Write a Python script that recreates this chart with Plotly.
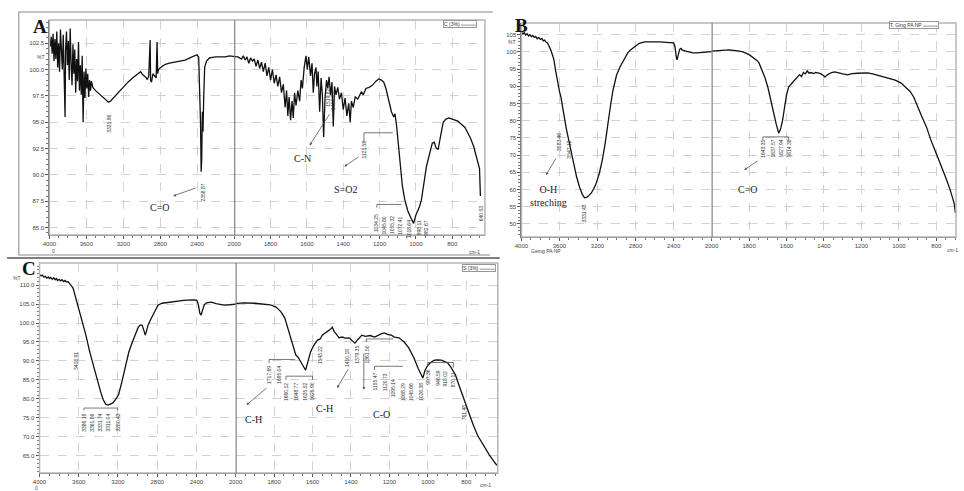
import plotly.graph_objects as go

W, H = 964, 491


def px(x):
    return x / W


def py(y):
    return 1 - y / H


# ---------------- data ----------------
A_name = "C (3%)"
B_name = "T. Ging PA NP"
C_name = "S (3%)"

A_wn = [4000, 3990, 3980, 3970, 3960, 3950, 3940, 3930, 3920, 3910,
        3900, 3890, 3880, 3870, 3860, 3850, 3840, 3830, 3825, 3815,
        3805, 3795, 3785, 3775, 3765, 3755, 3745, 3735, 3725, 3715,
        3705, 3695, 3685, 3675, 3665, 3655, 3645, 3635, 3625, 3615,
        3605, 3595, 3585, 3575, 3565, 3555, 3545, 3530, 3500, 3450,
        3400, 3360, 3340, 3300, 3250, 3200, 3150, 3100, 3050, 3013,
        2990, 2960, 2940, 2925, 2910, 2905, 2895, 2880, 2845, 2835,
        2828, 2820, 2780, 2745, 2700, 2650, 2600, 2532, 2480, 2430,
        2404, 2385, 2375, 2365, 2358, 2352, 2345, 2338, 2330, 2320,
        2300, 2268, 2200, 2100, 2050, 2000, 1980, 1960, 1950, 1940,
        1930, 1920, 1910, 1900, 1890, 1880, 1870, 1860, 1850, 1840,
        1830, 1820, 1810, 1800, 1790, 1780, 1770, 1760, 1750, 1740,
        1730, 1720, 1712, 1705, 1698, 1690, 1682, 1675, 1668, 1660,
        1650, 1640, 1632, 1625, 1615, 1605, 1598, 1590, 1580, 1572,
        1565, 1558, 1550, 1545, 1538, 1530, 1522, 1515, 1508, 1500,
        1492, 1485, 1478, 1470, 1462, 1455, 1448, 1440, 1430, 1421,
        1410, 1400, 1390, 1380, 1370, 1362, 1355, 1345, 1334, 1320,
        1300, 1290, 1275, 1258, 1240, 1220, 1204, 1190, 1177, 1165,
        1150, 1135, 1122, 1115, 1106, 1090, 1075, 1062, 1045, 1030,
        1013, 1000, 990, 980, 970, 955, 942, 925, 910, 899,
        890, 878, 865, 850, 835, 818, 800, 785, 769, 750,
        730, 715, 700, 682, 665, 650, 645]
A_T = [102.8, 102.2, 103.1, 101.5, 103.4, 100.8, 102.9, 101.0, 103.6, 100.2,
       102.5, 99.8, 103.8, 101.2, 100.0, 103.3, 99.4, 95.5, 101.8, 103.6,
       100.4, 102.7, 99.0, 103.9, 100.6, 98.5, 102.4, 99.6, 101.9, 97.8,
       101.0, 98.9, 102.6, 98.0, 100.4, 97.6, 101.3, 95.0, 99.8, 97.3,
       100.1, 98.2, 99.6, 97.4, 99.0, 98.0, 98.9, 98.3, 98.0, 97.6,
       97.2, 96.9, 97.0, 97.4, 97.9, 98.4, 98.8, 99.2, 99.6, 99.8,
       99.5, 99.3, 99.05, 99.4, 102.8, 99.0, 98.8, 99.6, 99.2, 102.6,
       99.6, 100.0, 100.3, 100.5, 100.6, 100.7, 100.8, 100.9, 101.1, 101.3,
       101.4, 101.2, 99.0, 95.0, 90.3, 91.5, 96.0, 94.1, 97.5, 100.2,
       100.8, 101.1, 101.2, 101.2, 101.3, 101.2, 101.2, 101.0, 101.3, 100.9,
       101.2, 100.6, 101.1, 100.8, 101.0, 100.3, 100.9, 100.1, 100.7, 99.8,
       100.6, 99.4, 100.2, 99.0, 100.0, 98.7, 99.5, 98.4, 99.3, 97.8,
       98.6, 96.4, 98.0, 95.6, 97.4, 95.2, 97.0, 95.4, 97.8, 96.6,
       98.0, 97.0, 99.0, 98.2, 100.2, 101.3, 100.0, 101.2, 99.4, 100.6,
       97.8, 99.6, 100.2, 98.4, 99.8, 96.0, 99.2, 97.6, 93.6, 97.4,
       99.0, 98.2, 99.3, 97.6, 98.8, 94.6, 98.4, 97.6, 98.3, 97.2,
       97.8, 96.2, 97.3, 95.6, 96.8, 95.0, 97.0, 96.4, 97.4, 97.2,
       97.9, 97.6, 98.2, 98.3, 98.5, 98.9, 99.1, 99.0, 98.8, 98.2,
       97.2, 96.0, 95.5, 95.8, 94.6, 91.5, 89.0, 87.7, 86.6, 86.0,
       85.4, 86.2, 86.6, 87.0, 87.6, 89.6, 90.8, 92.0, 93.0, 93.1,
       92.6, 92.4, 93.8, 95.0, 95.3, 95.4, 95.3, 95.2, 95.1, 94.8,
       94.5, 94.0, 93.5, 92.7, 91.6, 90.6, 88.0]

B_wn = [4000, 3985, 3970, 3955, 3940, 3925, 3910, 3895, 3880, 3865,
        3850, 3835, 3820, 3800, 3785, 3770, 3755, 3740, 3725, 3710,
        3690, 3670, 3658, 3640, 3620, 3600, 3585, 3560, 3530, 3503,
        3470, 3440, 3420, 3390, 3360, 3337, 3310, 3290, 3264, 3240,
        3212, 3180, 3150, 3119, 3090, 3060, 3036, 3000, 2964, 2920,
        2880, 2850, 2800, 2760, 2705, 2650, 2600, 2550, 2497, 2440,
        2400, 2385, 2370, 2363, 2352, 2335, 2320, 2311, 2280, 2240,
        2200, 2155, 2100, 2050, 2000, 1960, 1905, 1870, 1832, 1800,
        1775, 1760, 1747, 1730, 1715, 1700, 1685, 1668, 1655, 1642,
        1632, 1621, 1610, 1600, 1589, 1575, 1560, 1550, 1542, 1530,
        1520, 1510, 1500, 1489, 1480, 1470, 1455, 1445, 1432, 1415,
        1400, 1395, 1380, 1360, 1342, 1320, 1300, 1274, 1250, 1220,
        1190, 1168, 1140, 1110, 1079, 1050, 1020, 990, 960, 940,
        921, 900, 880, 853, 830, 800, 779, 750, 726, 705,
        698]
B_T = [105.8, 105.2, 105.6, 104.9, 105.3, 104.6, 105.0, 104.4, 104.8, 104.2,
       104.5, 103.8, 104.2, 103.6, 103.9, 103.2, 103.4, 102.8, 102.6, 101.8,
       100.5, 98.8, 97.7, 94.5, 91.2, 88.5, 86.9, 82.5, 78.0, 74.4,
       69.8, 66.0, 63.7, 60.8, 58.6, 57.6, 57.8, 58.3, 59.0, 60.2,
       61.9, 64.8, 68.5, 73.5, 79.5, 85.0, 89.0, 93.2, 95.6, 98.0,
       99.8, 100.6, 101.8, 102.5, 102.9, 103.0, 102.9, 102.9, 102.9, 102.7,
       102.6, 101.5, 98.2, 97.7, 99.0, 100.8, 101.0, 100.6, 100.3, 100.0,
       99.7, 99.7, 99.9, 100.0, 100.1, 100.4, 100.6, 100.4, 100.0, 99.2,
       98.3, 97.6, 96.8, 94.5, 92.5, 89.8, 86.0, 82.3, 79.0, 76.4,
       77.5, 80.2, 84.0, 87.5, 89.8, 90.8, 91.6, 92.2, 92.7, 93.4,
       92.8, 94.0, 93.6, 94.5, 93.8, 94.0, 93.7, 94.0, 93.9, 93.6,
       93.0, 92.7, 93.4, 94.0, 94.2, 93.8, 93.6, 93.3, 93.7, 93.8,
       93.9, 93.9, 93.6, 93.2, 92.7, 92.2, 91.8, 91.0, 89.6, 88.5,
       86.9, 84.0, 81.5, 78.2, 74.5, 70.4, 67.7, 63.5, 59.9, 56.0,
       53.2]

C_wn = [4000, 3985, 3970, 3955, 3940, 3925, 3910, 3899, 3885, 3870,
        3855, 3840, 3829, 3815, 3800, 3785, 3770, 3755, 3740, 3725,
        3708, 3690, 3675, 3658, 3640, 3625, 3607, 3590, 3560, 3527,
        3490, 3446, 3410, 3376, 3350, 3325, 3300, 3280, 3255, 3225,
        3194, 3160, 3124, 3090, 3053, 3020, 2993, 2970, 2953, 2935,
        2922, 2910, 2892, 2865, 2842, 2815, 2792, 2750, 2700, 2651,
        2600, 2550, 2500, 2449, 2420, 2395, 2380, 2365, 2352, 2340,
        2320, 2298, 2270, 2248, 2200, 2150, 2117, 2060, 2000, 1959,
        1900, 1856, 1820, 1790, 1765, 1744, 1725, 1703, 1695, 1687,
        1675, 1662, 1650, 1636, 1625, 1610, 1595, 1574, 1560, 1550,
        1533, 1520, 1510, 1497, 1488, 1475, 1462, 1445, 1430, 1410,
        1395, 1379, 1365, 1350, 1343, 1325, 1300, 1277, 1260, 1240,
        1226, 1210, 1190, 1174, 1150, 1135, 1123, 1100, 1085, 1072,
        1050, 1035, 1026, 1015, 1000, 980, 965, 949, 930, 915,
        897, 880, 856, 835, 815, 790, 764, 740, 713, 680,
        651, 640]
C_T = [112.8, 112.4, 112.6, 112.1, 112.3, 111.8, 112.1, 111.7, 112.0, 111.5,
       111.9, 111.4, 111.7, 111.2, 111.5, 111.1, 111.4, 110.9, 111.2, 110.8,
       110.9, 110.4, 109.8, 109.2, 107.5, 106.0, 104.7, 102.4, 99.6, 96.8,
       92.6, 88.2, 84.8, 81.8, 79.8, 78.6, 78.4, 78.6, 78.9, 79.8,
       81.1, 84.5, 88.9, 92.3, 95.0, 97.3, 98.9, 99.5, 99.4, 98.0,
       96.8, 97.8, 99.5, 101.0, 102.1, 103.6, 104.7, 105.2, 105.4, 105.5,
       105.7, 105.9, 106.0, 106.1, 106.1, 106.0, 104.8, 102.6, 102.1, 103.2,
       104.8, 105.3, 105.5, 105.5, 105.1, 104.8, 104.7, 104.8, 105.0, 105.3,
       105.2, 105.0, 104.8, 104.2, 103.0, 101.3, 98.0, 94.2, 93.2, 91.6,
       91.0, 89.7, 88.8, 87.6, 89.5, 92.4, 94.0, 95.5, 95.8, 96.7,
       97.4, 97.8, 98.2, 98.9, 97.8, 97.0, 96.1, 96.3, 96.0, 96.1,
       95.4, 94.7, 95.6, 96.4, 96.8, 96.5, 96.7, 96.3, 96.8, 97.2,
       97.4, 97.0, 96.8, 96.3, 96.1, 95.6, 95.0, 93.5, 92.0, 90.8,
       88.0, 86.2, 85.5, 87.5, 88.9, 89.8, 90.2, 90.3, 90.2, 89.9,
       89.5, 88.4, 86.3, 83.2, 80.3, 76.6, 73.2, 70.3, 67.9, 65.3,
       63.2, 62.5]

x_left_ticks = [4000, 3600, 3200, 2800, 2400, 2000]
x_right_ticks = [1800, 1600, 1400, 1200, 1000, 800]
A_yticks = [85.0, 87.5, 90.0, 92.5, 95.0, 97.5, 100.0, 102.5]
B_yticks = [50, 55, 60, 65, 70, 75, 80, 85, 90, 95, 100, 105]
C_yticks = [65, 70, 75, 80, 85, 90, 95, 100, 105, 110]

# peak labels: (wavenumber, %T position, text)
A_peaks_left = [(3350, 94.9, "3331.96"), (2341, 88.3, "2358.87")]
A_peaks_right = [(1485, 97.3, "1519.82"), (1457, 97.0, "1456.23"),
                 (1286, 92.4, "1121.53"),
                 (1215, 85.4, "1034.25"), (1176, 85.2, "1045.80"),
                 (1134, 85.2, "1055.32"), (1092, 85.2, "1072.41"),
                 (1041, 84.9, "1018.64"), (985, 85.0, "998.11"),
                 (944, 85.0, "982.67"), (640, 86.4, "640.53")]
B_peaks_left = [(3606, 73.8, "3583.46"), (3503, 71.5, "3547.12"),
                (3347, 52.9, "3331.43")]
B_peaks_right = [(1726, 71.8, "1643.35"), (1674, 71.8, "1637.57"),
                 (1632, 71.8, "1627.94"), (1589, 71.8, "1614.38")]
C_peaks_left = [(3627, 90.0, "3418.91"), (3547, 73.7, "3386.18"),
                (3466, 73.7, "3361.86"), (3386, 73.7, "3331.74"),
                (3305, 73.7, "3311.04"), (3204, 73.7, "3280.43")]
C_peaks_right = [(1826, 86.3, "1717.69"), (1775, 86.3, "1695.04"),
                 (1738, 81.8, "1660.12"), (1687, 81.8, "1648.77"),
                 (1641, 81.8, "1635.52"), (1600, 81.8, "1625.90"),
                 (1559, 91.6, "1543.22"), (1420, 90.8, "1410.18"),
                 (1369, 91.6, "1379.35"), (1318, 91.6, "1361.50"),
                 (1277, 84.5, "1155.47"), (1226, 84.5, "1120.73"),
                 (1179, 82.9, "1095.14"), (1128, 81.8, "1068.29"),
                 (1087, 81.8, "1045.66"), (1036, 81.8, "1026.38"),
                 (1000, 85.8, "997.36"), (949, 85.5, "946.59"),
                 (908, 85.5, "918.02"), (867, 85.0, "870.11"),
                 (810, 76.6, "761.48")]

# ---------------- layout geometry ----------------
panels = {
    "A": dict(xl=(43, 230.6), xr=(230.6, 485), yd=(20, 235), yr=[84.3, 104.7], xend=620,
              yticks=A_yticks, yfmt=".1f", ydminor=0.5,
              xl_id="x", xr_id="x2", y_id="y"),
    "B": dict(xl=(522, 715), xr=(715, 963), yd=(23, 237), yr=[46.2, 108.4], xend=695,
              yticks=B_yticks, yfmt="d", ydminor=1,
              xl_id="x3", xr_id="x4", y_id="y2"),
    "C": dict(xl=(33, 232), xr=(232, 498), yd=(263, 473), yr=[60.5, 115.8], xend=636,
              yticks=C_yticks, yfmt=".1f", ydminor=1,
              xl_id="x5", xr_id="x6", y_id="y3"),
}

TICKFONT = dict(size=6, color="#444", family="Liberation Sans")
GRID = "#d2d2d2"


def axname(aid):
    return ("xaxis" if aid[0] == "x" else "yaxis") + aid[1:]


fig = go.Figure()
layout = dict(width=W, height=H, margin=dict(l=0, r=0, t=0, b=0),
              paper_bgcolor="white", plot_bgcolor="white", showlegend=False)

series = {"A": (A_wn, A_T, A_name),
          "B": (B_wn, B_T, B_name),
          "C": (C_wn, C_T, C_name)}

for key, p in panels.items():
    wn, tr, name = series[key]
    for side, aid in (("l", p["xl_id"]), ("r", p["xr_id"])):
        fig.add_trace(go.Scatter(
            x=wn, y=tr, mode="lines", name=name,
            line=dict(color="#111", width=1.3),
            xaxis=aid, yaxis=p["y_id"]))
        dom = p["xl"] if side == "l" else p["xr"]
        if side == "l":
            rng, tv, dmin = [4000, 2000], x_left_ticks, 100
        else:
            rng, tv, dmin = [2000, p["xend"]], x_right_ticks, 50
        layout[axname(aid)] = dict(
            domain=[px(dom[0]), px(dom[1])], range=rng, anchor=p["y_id"],
            tickmode="array", tickvals=tv, ticktext=[str(t) for t in tv],
            tickfont=TICKFONT, ticks="outside", ticklen=3, tickcolor="#555",
            showline=True, linecolor="#666", linewidth=1,
            showgrid=True, gridcolor=GRID, griddash="dash", gridwidth=1,
            minor=dict(tickmode="linear", tick0=0, dtick=dmin, ticks="outside",
                       ticklen=2, tickcolor="#777", showgrid=False),
            zeroline=False, fixedrange=True)
    layout[axname(p["y_id"])] = dict(
        domain=[py(p["yd"][1]), py(p["yd"][0])], range=p["yr"], anchor=p["xl_id"],
        tickmode="array", tickvals=p["yticks"], tickformat=p["yfmt"],
        tickfont=TICKFONT, ticks="outside", ticklen=3, tickcolor="#555",
        showline=True, linecolor="#666", linewidth=1,
        showgrid=True, gridcolor=GRID, griddash="dash", gridwidth=1,
        minor=dict(tickmode="linear", tick0=0, dtick=p["ydminor"], ticks="outside",
                   ticklen=2, tickcolor="#777", showgrid=False),
        zeroline=False, fixedrange=True)

shapes = []
annotations = []

for key, p in panels.items():
    # plot frame
    shapes.append(dict(type="rect", xref="paper", yref="paper",
                       x0=px(p["xl"][0]), x1=px(p["xr"][1]),
                       y0=py(p["yd"][1]), y1=py(p["yd"][0]),
                       line=dict(color="#b5b5b5", width=1.5)))
    # scale-change divider at 2000 cm-1
    shapes.append(dict(type="line", xref=p["xr_id"], yref=p["y_id"] + " domain",
                       x0=2000, x1=2000, y0=0, y1=1,
                       line=dict(color="#6a6a6a", width=2)))

# outer frame of panel A and divider line above panel C
for (x0, y0, x1, y1) in [(12, 12, 493, 12), (12, 12, 12, 255), (12, 255, 490, 255)]:
    shapes.append(dict(type="line", xref="paper", yref="paper",
                       x0=px(x0), y0=py(y0), x1=px(x1), y1=py(y1),
                       line=dict(color="#888", width=1)))
shapes.append(dict(type="line", xref="paper", yref="paper",
                   x0=px(0), y0=py(258), x1=px(500), y1=py(258),
                   line=dict(color="#555", width=1.5)))

# bracket leader lines
brackets = [
    ("x2", "y", [(1286, 93.0), (1286, 94.0), (1128, 94.0)]),
    ("x2", "y", [(1215, 86.9), (1215, 87.2), (1080, 87.2)]),
    ("x4", "y2", [(1726, 74.4), (1726, 75.3), (1589, 75.3), (1589, 74.4)]),
    ("x6", "y3", [(1826, 89.5), (1826, 90.4), (1690, 90.4)]),
    ("x6", "y3", [(1738, 85.0), (1738, 86.0), (1600, 86.0), (1600, 85.0)]),
    ("x6", "y3", [(1277, 87.6), (1277, 88.6), (1130, 88.6)]),
    ("x6", "y3", [(1000, 88.8), (1000, 89.6), (867, 89.6), (867, 88.2)]),
    ("x6", "y3", [(1320, 95.0), (1320, 95.8), (1180, 95.8)]),
    ("x5", "y3", [(3547, 77.0), (3547, 77.6), (3204, 77.6), (3204, 77.0)]),
]
for xr_, yr_, pts in brackets:
    for (a, b), (c, d) in zip(pts[:-1], pts[1:]):
        shapes.append(dict(type="line", xref=xr_, yref=yr_, x0=a, y0=b, x1=c, y1=d,
                           line=dict(color="#555", width=0.8)))


def peak_labels(lst, xref, yref):
    for wn_, t_, txt in lst:
        annotations.append(dict(x=wn_, y=t_, xref=xref, yref=yref, text=txt,
                                textangle=-90, showarrow=False,
                                font=dict(size=5, color="#333", family="Liberation Sans"),
                                xanchor="center", yanchor="middle"))


peak_labels(A_peaks_left, "x", "y")
peak_labels(A_peaks_right, "x2", "y")
peak_labels(B_peaks_left, "x3", "y2")
peak_labels(B_peaks_right, "x4", "y2")
peak_labels(C_peaks_left, "x5", "y3")
peak_labels(C_peaks_right, "x6", "y3")

SERIF = dict(family="Liberation Serif", size=10, color="#222")
group_labels = [
    ("x", "y", 2800, 86.9, "C=O"),
    ("x2", "y", 1623, 91.6, "C-N"),
    ("x2", "y", 1389, 88.6, "S=O2"),
    ("x3", "y2", 3710, 58.0, "O-H<br>streching"),
    ("x4", "y2", 1805, 59.9, "C=O"),
    ("x6", "y3", 1908, 74.5, "C-H"),
    ("x6", "y3", 1538, 77.6, "C-H"),
    ("x6", "y3", 1241, 75.8, "C-O"),
]
for xr_, yr_, x_, y_, txt in group_labels:
    annotations.append(dict(x=x_, y=y_, xref=xr_, yref=yr_, text=txt, showarrow=False,
                            font=SERIF, xanchor="center", yanchor="middle"))

arrows = [
    ("x", "y", 2661, 88.0, 2405, 88.8),
    ("x2", "y", 1585, 92.8, 1471, 95.9),
    ("x2", "y", 1394, 90.8, 1308, 91.8),
    ("x3", "y2", 3741, 64.2, 3627, 69.5),
    ("x4", "y2", 1826, 65.7, 1747, 68.6),
    ("x6", "y3", 1944, 78.4, 1831, 83.2),
    ("x6", "y3", 1472, 82.9, 1410, 88.2),
    ("x6", "y3", 1333, 82.4, 1333, 92.4),
]
for xr_, yr_, hx, hy, tx, ty in arrows:
    annotations.append(dict(x=hx, y=hy, ax=tx, ay=ty, xref=xr_, yref=yr_,
                            axref=xr_, ayref=yr_, text="", showarrow=True,
                            arrowhead=2, arrowsize=0.7, arrowwidth=0.8,
                            arrowcolor="#555"))

# series name boxes (top-right of each plot)
NAMEFONT = dict(size=5, color="#333", family="Liberation Sans")
for name, x_, y_ in [(A_name, 477, 24.5), (B_name, 946, 25), (C_name, 496, 268)]:
    annotations.append(dict(
        x=px(x_), y=py(y_), xref="paper", yref="paper",
        text=name + " <span style='color:#bbb'>&#9644;&#9644;&#9644;</span>",
        showarrow=False, font=NAMEFONT, xanchor="right", yanchor="middle",
        bordercolor="#999", borderwidth=1, borderpad=0, bgcolor="white"))

# panel letters, %T and unit labels
BOLD = dict(family="Liberation Serif", size=19, color="#111")
for txt, x_, y_ in [("<b>A</b>", 33, 27), ("<b>B</b>", 522, 25), ("<b>C</b>", 22, 268)]:
    annotations.append(dict(x=px(x_), y=py(y_), xref="paper", yref="paper", text=txt,
                            showarrow=False, font=BOLD, xanchor="center", yanchor="middle"))
SMALL = dict(size=5, color="#444", family="Liberation Sans")
for txt, x_, y_ in [("%T", 35, 57), ("%T", 512, 42), ("%T", 10, 278),
                    ("cm-1", 474, 252), ("cm-1", 959, 250), ("cm-1", 486, 485),
                    ("0", 47, 251), ("Gerng PA NP", 547, 251), ("0", 30, 488)]:
    annotations.append(dict(x=px(x_), y=py(y_), xref="paper", yref="paper", text=txt,
                            showarrow=False, font=SMALL, xanchor="center", yanchor="middle"))

layout["shapes"] = shapes
layout["annotations"] = annotations
fig.update_layout(**layout)

fig.write_html("out.html")
